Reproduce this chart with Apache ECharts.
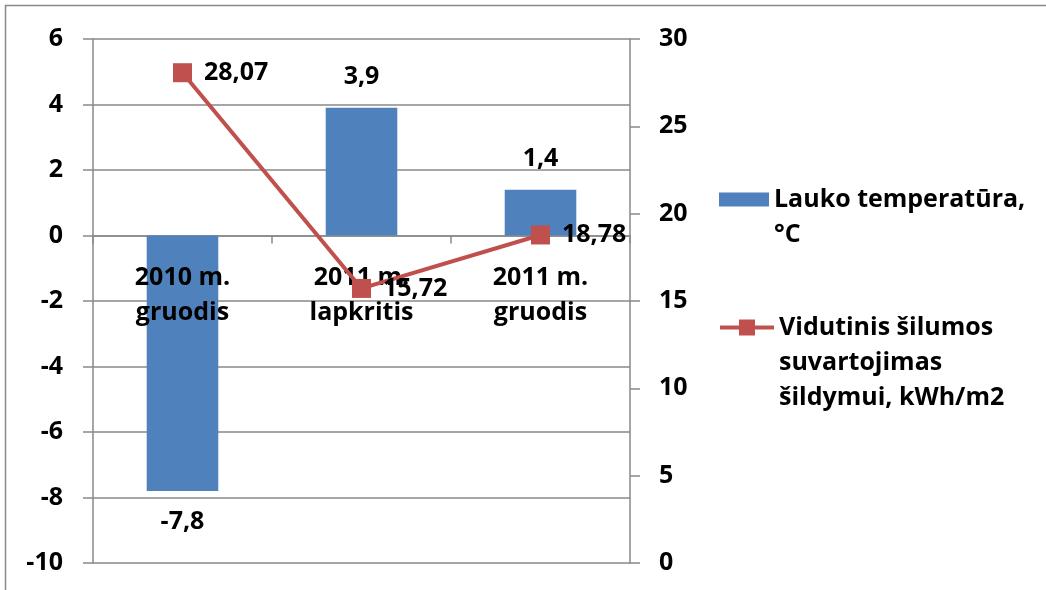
<!DOCTYPE html>
<html>
<head>
<meta charset="utf-8">
<script src="https://cdn.jsdelivr.net/npm/echarts@6/dist/echarts.min.js"></script>
<style>
html,body{margin:0;padding:0;background:#fff;}
#chart{width:1046px;height:590px;}
</style>
</head>
<body>
<div id="chart"></div>
<script>
var categories = ['2010 m.\ngruodis', '2011 m.\nlapkritis', '2011 m.\ngruodis'];
var temperature = [-7.8, 3.9, 1.4];
var heatUse = [28.07, 15.72, 18.78];
var leftTicks = {min: -10, max: 6, interval: 2};
var rightTicks = {min: 0, max: 30, interval: 5};
var seriesNames = ['Lauko temperatūra, °C', 'Vidutinis šilumos suvartojimas šildymui, kWh/m2'];
var legendTexts = ['Lauko temperatūra,\n°C', 'Vidutinis šilumos\nsuvartojimas\nšildymui, kWh/m2'];

var FONT = '"Open Sans", "Liberation Sans", sans-serif';
var GRAY = '#898989';
function comma(v){ return String(v).replace('.', ','); }

var W = 1046, H = 590;
var GRID = {left: 93, right: 416, top: 39, bottom: 27};
var plotH = H - GRID.top - GRID.bottom;
// distance from the bottom of the plot up to the zero line (layout only)
var zeroOffset = plotH * (0 - leftTicks.min) / (leftTicks.max - leftTicks.min);

var chart = echarts.init(document.getElementById('chart'), null, {renderer: 'canvas'});
var labelBase = {fontFamily: FONT, fontWeight: 'bold', fontSize: 25, color: '#000'};

chart.setOption({
  animation: false,
  backgroundColor: '#fff',
  graphic: [{
    type: 'rect', silent: true,
    shape: {x: 5.5, y: 5.5, width: 1200, height: 800},
    style: {fill: 'none', stroke: GRAY, lineWidth: 1.5}
  }],
  grid: Object.assign({containLabel: false, outerBoundsMode: 'none'}, GRID),
  legend: [{
    left: 719, top: 147, padding: 0, orient: 'vertical',
    data: [{name: seriesNames[0], icon: 'rect'}],
    itemWidth: 50, itemHeight: 14,
    formatter: function(){ return '\n' + legendTexts[0]; },
    textStyle: Object.assign({lineHeight: 35}, labelBase)
  }, {
    left: 718, top: 240, padding: 0, orient: 'vertical',
    data: [{name: seriesNames[1]}],
    itemWidth: 54, itemHeight: 20,
    lineStyle: {width: 4},
    formatter: function(){ return '\n\n' + legendTexts[1]; },
    textStyle: Object.assign({lineHeight: 35}, labelBase)
  }],
  xAxis: [{
    type: 'category',
    data: categories,
    axisLine: {onZero: true, lineStyle: {color: GRAY, width: 1.5}},
    axisTick: {show: true, length: 8, lineStyle: {color: GRAY, width: 1.5}},
    axisLabel: {show: false},
    splitLine: {show: false}
  }, {
    type: 'category',
    data: categories,
    position: 'bottom',
    offset: -zeroOffset,
    z: 2.5,
    axisLine: {show: false, onZero: false},
    axisTick: {show: false},
    axisLabel: Object.assign({margin: 25, lineHeight: 35, interval: 0}, labelBase),
    splitLine: {show: false}
  }],
  yAxis: [{
    type: 'value',
    min: leftTicks.min, max: leftTicks.max, interval: leftTicks.interval,
    axisLine: {show: true, lineStyle: {color: GRAY, width: 1.5}},
    axisTick: {show: true, length: 10, lineStyle: {color: GRAY, width: 1.5}},
    axisLabel: Object.assign({margin: 30}, labelBase),
    splitLine: {show: true, lineStyle: {color: GRAY, width: 1.5}}
  }, {
    type: 'value', position: 'right',
    min: rightTicks.min, max: rightTicks.max, interval: rightTicks.interval,
    axisLine: {show: true, lineStyle: {color: GRAY, width: 1.5}},
    axisTick: {show: true, length: 10, lineStyle: {color: GRAY, width: 1.5}},
    axisLabel: Object.assign({margin: 29}, labelBase),
    splitLine: {show: false}
  }],
  series: [{
    name: seriesNames[0],
    type: 'bar',
    barWidth: '40%',
    itemStyle: {color: '#4F81BD'},
    data: temperature.map(function(v){
      return {value: v, label: {position: v < 0 ? 'bottom' : 'top'}};
    }),
    label: Object.assign({show: true, distance: 18, formatter: function(p){ return comma(p.value); }}, labelBase),
    z: 2
  }, {
    name: seriesNames[1],
    type: 'line',
    yAxisIndex: 1,
    data: heatUse,
    symbol: 'rect',
    symbolSize: 19,
    lineStyle: {color: '#C0504D', width: 4},
    itemStyle: {color: '#C0504D'},
    label: Object.assign({show: true, position: 'right', distance: 12, formatter: function(p){ return comma(p.value); }}, labelBase),
    z: 3
  }]
});
</script>
</body>
</html>
